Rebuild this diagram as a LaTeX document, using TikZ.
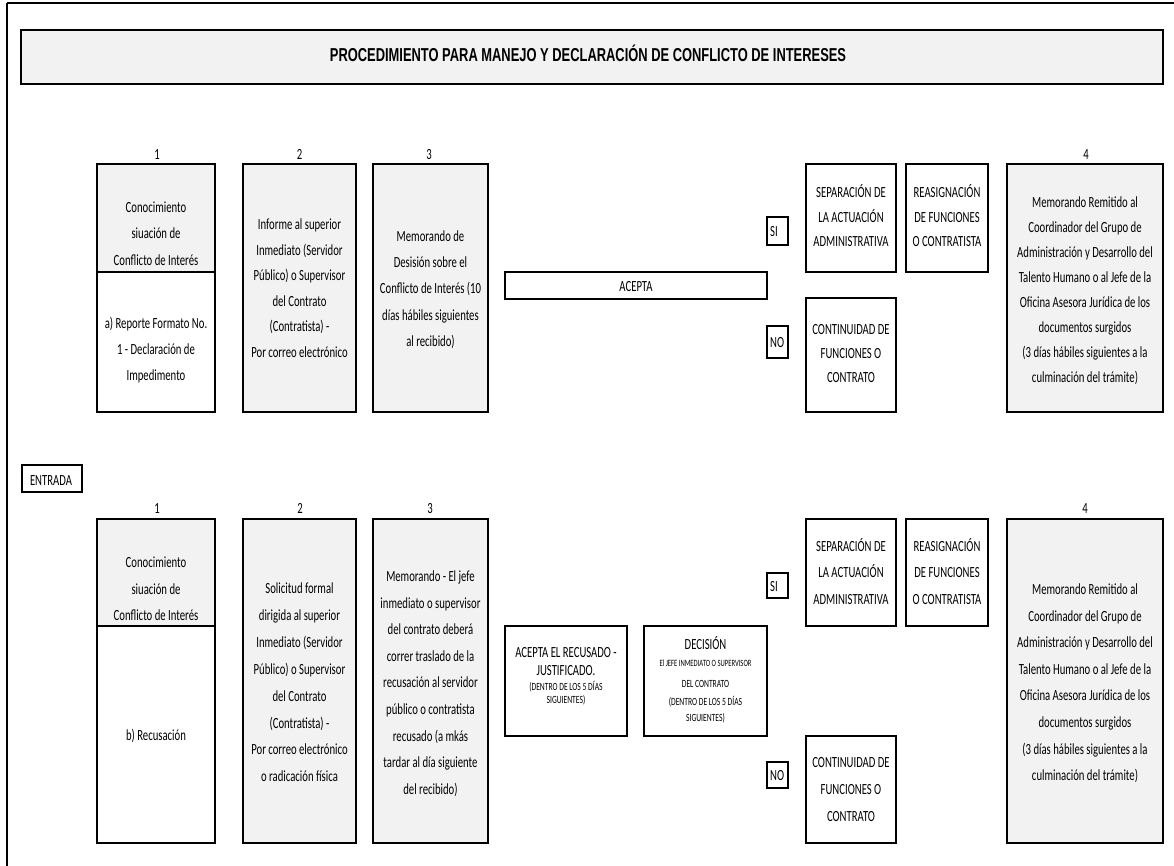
\documentclass[tikz,border=0pt]{standalone}
\usepackage{fontspec}
\setmainfont{Carlito}[FakeStretch=0.69]
\newfontfamily\titlefont{Liberation Sans}[FakeStretch=0.69]
\definecolor{cellgray}{HTML}{F2F2F2}
\newcommand\fz[1]{\fontsize{15.5}{#1}\selectfont}
\newcommand\mkcell[6]{%
  \node[#2, minimum width={#5pt-#3pt}, minimum height={#6pt-#4pt}] (#1) at (#3,#4) {};
  \draw[hl] (#1.north west) -- (#1.north east) (#1.south west) -- (#1.south east);
}
\newcommand\mkflag[5]{%
  \node[whitec, minimum width={#4pt-#2pt}, minimum height={#5pt-#3pt}] (#1) at (#2,#3) {};
}
\tikzset{
  cell/.style={draw=black, line width=1.1pt, inner sep=0pt, outer sep=0pt, anchor=north west},
  grayc/.style={cell, fill=cellgray},
  whitec/.style={cell, fill=white},
  hl/.style={line width=1.9pt, line cap=rect},
  tx/.style={align=center, inner sep=0pt, anchor=base},
  flagtx/.style={inner sep=0pt, anchor=base west, font=\fz{18}},
}
\begin{document}
\begin{tikzpicture}[x=1pt,y=-1pt]
\useasboundingbox (0,0) rectangle (1174,866);
% outer frame
\coordinate (ftl) at (7,3);
\coordinate (ftr) at (1174,3);
\coordinate (fbl) at (7,866);
\draw[line width=2pt] (ftl) -- (ftr);
\draw[line width=1.2pt] (ftl) -- (fbl);
% title
\mkcell{title}{grayc}{21}{30}{1163}{84}
\node[inner sep=0pt, anchor=base, font=\titlefont\bfseries\fontsize{18.7}{20}\selectfont] (t-title) at (588,62) {PROCEDIMIENTO PARA MANEJO Y DECLARACIÓN DE CONFLICTO DE INTERESES};
% ---------- top row ----------
\mkcell{a1t}{grayc}{97}{164}{215}{272}
\mkcell{a1b}{whitec}{97}{272}{215}{412}
\mkcell{a2}{grayc}{243}{164}{356}{412}
\mkcell{a3}{grayc}{373}{164}{488}{412}
\mkcell{acepta}{whitec}{505}{272}{767}{299}
\mkflag{asi}{767}{217}{788}{245}
\mkflag{ano}{767}{326}{788}{358}
\mkcell{asep}{whitec}{806}{164}{896}{272}
\mkcell{areas}{whitec}{906}{164}{988}{272}
\mkcell{acont}{whitec}{806}{298}{896}{412}
\mkcell{a4}{grayc}{1007}{164}{1163}{412}

\node[tx, font=\fz{18}] (n-a1) at (157,160) {1};
\node[tx, font=\fz{18}] (n-a2) at (299.5,160) {2};
\node[tx, font=\fz{18}] (n-a3) at (429,160) {3};
\node[tx, font=\fz{18}] (n-a4) at (1086,160) {4};

% multi-line text nodes are anchored at the baseline of their last line
\node[tx, font=\fz{26.5}] (t-a1t) at (156,265.5) {Conocimiento\\siuación de\\Conflicto de Interés};
\node[tx, font=\fz{26}] (t-a1b) at (156,380.5) {a) Reporte Formato No.\\1 - Declaración de\\Impedimento};
\node[tx, font=\fz{25.6}] (t-a2) at (299.5,357.5) {Informe al superior\\Inmediato (Servidor\\Público) o Supervisor\\del Contrato\\(Contratista) -\\Por correo electrónico};
\node[tx, font=\fz{26.2}] (t-a3) at (430.5,346.3) {Memorando de\\Desisión sobre el\\Conflicto de Interés (10\\días hábiles siguientes\\al recibido)};
\node[tx, font=\fz{18}] (t-acepta) at (636,292) {ACEPTA};
\node[flagtx] (t-asi) at (770,237) {SI};
\node[flagtx] (t-ano) at (770,347) {NO};
\node[tx, font=\fz{24.5}] (t-asep) at (851,247) {SEPARACIÓN DE\\LA ACTUACIÓN\\ADMINISTRATIVA};
\node[tx, font=\fz{24.5}] (t-areas) at (947,247) {REASIGNACIÓN\\DE FUNCIONES\\O CONTRATISTA};
\node[tx, font=\fz{24}] (t-acont) at (851,382) {CONTINUIDAD DE\\FUNCIONES O\\CONTRATO};
\node[tx, font=\fz{25}] (t-a4) at (1085,382.5) {Memorando Remitido al\\Coordinador del Grupo de\\Administración y Desarrollo del\\Talento Humano o al Jefe de la\\Oficina Asesora Jurídica de los\\documentos surgidos\\(3 días hábiles siguientes a la\\culminación del trámite)};

% ---------- entrada ----------
\mkcell{entrada}{whitec}{22}{465}{82}{492}
\node[tx, font=\fz{18}] (t-entrada) at (51,485) {ENTRADA};

% ---------- bottom row ----------
\mkcell{b1t}{grayc}{97}{519}{215}{626}
\mkcell{b1b}{whitec}{97}{626}{215}{843}
\mkcell{b2}{grayc}{243}{519}{356}{843}
\mkcell{b3}{grayc}{373}{519}{488}{843}
\mkcell{brec}{whitec}{505}{626}{627}{736}
\mkcell{bdec}{whitec}{644}{626}{767}{736}
\mkflag{bsi}{767}{573}{788}{598}
\mkflag{bno}{767}{762}{788}{788}
\mkcell{bsep}{whitec}{806}{519}{896}{626}
\mkcell{breas}{whitec}{906}{519}{988}{626}
\mkcell{bcont}{whitec}{806}{736}{896}{843}
\mkcell{b4}{grayc}{1007}{519}{1163}{843}

\node[tx, font=\fz{18}] (n-b1) at (157,513) {1};
\node[tx, font=\fz{18}] (n-b2) at (300,513) {2};
\node[tx, font=\fz{18}] (n-b3) at (430,513) {3};
\node[tx, font=\fz{18}] (n-b4) at (1085,513) {4};

\node[tx, font=\fz{26.5}] (t-b1t) at (156,620.5) {Conocimiento\\siuación de\\Conflicto de Interés};
\node[tx, font=\fz{26}] (t-b1b) at (156,740.5) {b) Recusación};
\node[tx, font=\fz{26.9}] (t-b2) at (299.5,781.8) {Solicitud formal\\dirigida al superior\\Inmediato (Servidor\\Público) o Supervisor\\del Contrato\\(Contratista) -\\Por correo electrónico\\o radicación física};
\node[tx, font=\fz{26.6}] (t-b3) at (430.5,794.3) {Memorando - El jefe\\inmediato o supervisor\\del contrato deberá\\correr traslado de la\\recusación al servidor\\público o contratista\\recusado (a mkás\\tardar al día siguiente\\del recibido)};
\node[tx, font=\fz{18}] (t-brec) at (566,703) {ACEPTA EL RECUSADO -\\JUSTIFICADO.\\[-3pt]{\fontsize{11}{13}\selectfont (DENTRO DE LOS 5 DÍAS}\\[-5pt]{\fontsize{11}{13}\selectfont SIGUIENTES)}};
\node[tx, font=\fontsize{11}{17}\selectfont] (t-bdec) at (705.5,721) {{\fz{18}DECISIÓN}\\{\fontsize{9.6}{12}\selectfont El JEFE INMEDIATO O SUPERVISOR}\\[4pt]DEL CONTRATO\\[1pt](DENTRO DE LOS 5 DÍAS\\[-1pt]SIGUIENTES)};
\node[flagtx] (t-bsi) at (770,591) {SI};
\node[flagtx] (t-bno) at (770,780) {NO};
\node[tx, font=\fz{26.5}] (t-bsep) at (851,604) {SEPARACIÓN DE\\LA ACTUACIÓN\\ADMINISTRATIVA};
\node[tx, font=\fz{26.5}] (t-breas) at (947,604) {REASIGNACIÓN\\DE FUNCIONES\\O CONTRATISTA};
\node[tx, font=\fz{27}] (t-bcont) at (851,821) {CONTINUIDAD DE\\FUNCIONES O\\CONTRATO};
\node[tx, font=\fz{26.6}] (t-b4) at (1085,780.7) {Memorando Remitido al\\Coordinador del Grupo de\\Administración y Desarrollo del\\Talento Humano o al Jefe de la\\Oficina Asesora Jurídica de los\\documentos surgidos\\(3 días hábiles siguientes a la\\culminación del trámite)};
\end{tikzpicture}
\end{document}
